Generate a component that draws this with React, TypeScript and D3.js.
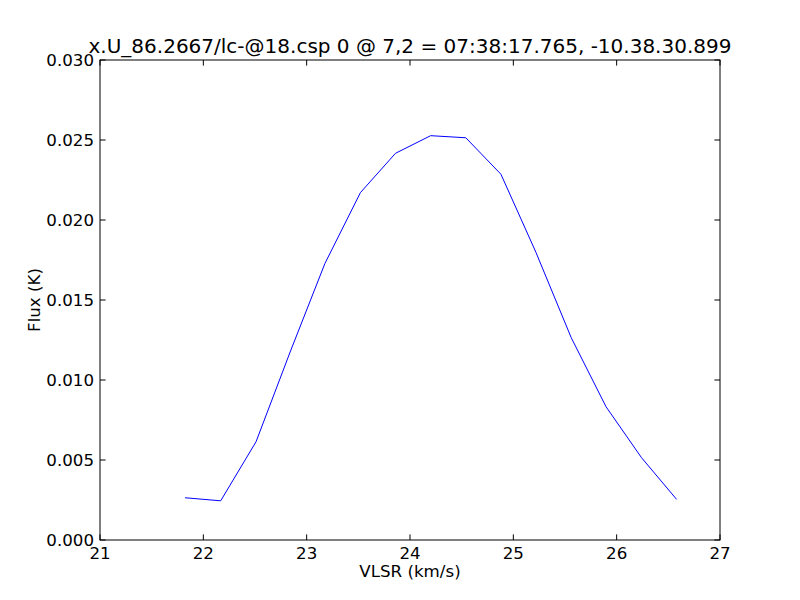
import React from "react";
import * as d3 from "d3";

const velocity = [21.823, 22.168, 22.51, 22.84, 23.177, 23.52, 23.86, 24.2, 24.54, 24.88, 25.22, 25.56, 25.897, 26.24, 26.58];
const flux = [0.00264, 0.00245, 0.00614, 0.01175, 0.01729, 0.02171, 0.02417, 0.02527, 0.02514, 0.02286, 0.01796, 0.01265, 0.00833, 0.00515, 0.00254];
const xTicks = [21, 22, 23, 24, 25, 26, 27];
const yTicks = [0, 0.005, 0.01, 0.015, 0.02, 0.025, 0.03];
const title = "x.U_86.2667/lc-@18.csp 0 @ 7,2 = 07:38:17.765, -10.38.30.899";

export default function App() {
  const W = 800, H = 600;
  const left = 100, right = 720, top = 60, bottom = 540;
  const x = d3.scaleLinear().domain([21, 27]).range([left, right]);
  const y = d3.scaleLinear().domain([0, 0.03]).range([bottom, top]);
  const line = d3.line<number>().x((_, i) => x(velocity[i])).y((d) => y(d));
  const font = "'DejaVu Sans', sans-serif";
  const fs = 16.67;
  const tl = 5.6;
  return (
    <svg width={W} height={H} style={{ position: "absolute", left: 0, top: 0, background: "#fff" }} fontFamily={font}>
      <rect x={0} y={0} width={W} height={H} fill="#fff" />
      <path d={line(flux) || ""} fill="none" stroke="#0000ff" strokeWidth={1} />
      <rect x={left} y={top} width={right - left} height={bottom - top} fill="none" stroke="#000" strokeWidth={1} />
      {xTicks.map((t) => (
        <g key={"x" + t}>
          <line x1={x(t)} x2={x(t)} y1={bottom} y2={bottom - tl} stroke="#000" />
          <line x1={x(t)} x2={x(t)} y1={top} y2={top + tl} stroke="#000" />
          <text x={x(t)} y={bottom + 6} dy="0.76em" textAnchor="middle" fontSize={fs}>{t}</text>
        </g>
      ))}
      {yTicks.map((t) => (
        <g key={"y" + t}>
          <line x1={left} x2={left + tl} y1={y(t)} y2={y(t)} stroke="#000" />
          <line x1={right} x2={right - tl} y1={y(t)} y2={y(t)} stroke="#000" />
          <text x={left - 6} y={y(t)} dy="0.36em" textAnchor="end" fontSize={fs}>{t.toFixed(3)}</text>
        </g>
      ))}
      <text x={(left + right) / 2} y={577} textAnchor="middle" fontSize={fs}>VLSR (km/s)</text>
      <text transform={`translate(40,${(top + bottom) / 2}) rotate(-90)`} textAnchor="middle" fontSize={fs}>Flux (K)</text>
      <text x={(left + right) / 2} y={53} textAnchor="middle" fontSize={20}>{title}</text>
    </svg>
  );
}
